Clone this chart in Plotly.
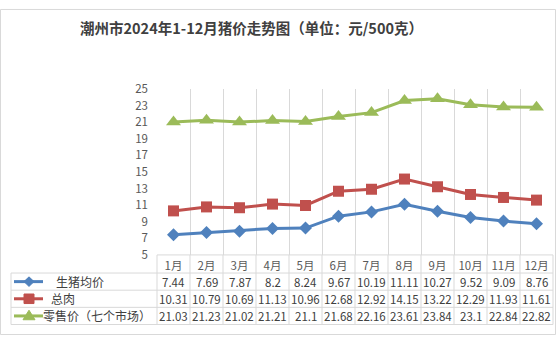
import plotly.graph_objects as go

months = ["1月", "2月", "3月", "4月", "5月", "6月", "7月", "8月", "9月", "10月", "11月", "12月"]
pig = [7.44, 7.69, 7.87, 8.2, 8.24, 9.67, 10.19, 11.11, 10.27, 9.52, 9.09, 8.76]
pork = [10.31, 10.79, 10.69, 11.13, 10.96, 12.68, 12.92, 14.15, 13.22, 12.29, 11.93, 11.61]
retail = [21.03, 21.23, 21.02, 21.21, 21.1, 21.68, 22.16, 23.61, 23.84, 23.1, 22.84, 22.82]
pig_labels = ["7.44", "7.69", "7.87", "8.2", "8.24", "9.67", "10.19", "11.11", "10.27", "9.52", "9.09", "8.76"]
pork_labels = ["10.31", "10.79", "10.69", "11.13", "10.96", "12.68", "12.92", "14.15", "13.22", "12.29", "11.93", "11.61"]
retail_labels = ["21.03", "21.23", "21.02", "21.21", "21.1", "21.68", "22.16", "23.61", "23.84", "23.1", "22.84", "22.82"]
series_names = ["生猪均价", "总肉", "零售价（七个市场）"]
colors = ["#4F81BD", "#C0504D", "#9BBB59"]
symbols = ["diamond", "square", "triangle-up"]
msizes = [10, 11, 13]

W, H = 556, 342
PL, PR, PT, PB = 157, 553, 84, 258
FONT = "Noto Sans CJK SC"
TXT = "#404040"
GRID = "#D9D9D9"


def px(x):
    return x / W


def py(y):
    return 1 - y / H


fig = go.Figure()
for vals, name, c, s, ms in zip([pig, pork, retail], series_names, colors, symbols, msizes):
    fig.add_trace(go.Scatter(x=months, y=vals, name=name, mode="lines+markers",
                             line=dict(color=c, width=3),
                             marker=dict(symbol=s, size=ms, color=c),
                             showlegend=False, cliponaxis=False))

shapes = []
annos = []

n = len(months)
cw = (PR - PL) / n
for k in range(n + 1):
    x = PL + cw * k
    shapes.append(dict(type="line", xref="paper", yref="paper", x0=px(x), x1=px(x),
                       y0=py(PB), y1=py(331), line=dict(color=GRID, width=1)))
shapes.append(dict(type="line", xref="paper", yref="paper", x0=px(11), x1=px(11),
                   y0=py(277), y1=py(331), line=dict(color=GRID, width=1)))
shapes.append(dict(type="line", xref="paper", yref="paper", x0=px(PL), x1=px(PR),
                   y0=py(PB), y1=py(PB), line=dict(color=GRID, width=1)))
for yy in [277, 295, 313, 331]:
    shapes.append(dict(type="line", xref="paper", yref="paper", x0=px(11), x1=px(PR),
                       y0=py(yy), y1=py(yy), line=dict(color=GRID, width=1)))
shapes.append(dict(type="rect", xref="paper", yref="paper", x0=px(0.5), x1=px(W - 0.5),
                   y0=py(0.5), y1=py(H - 0.5), line=dict(color="#D9D9D9", width=1)))

row_y = [286, 304, 322]
label_cx = [80, 63, 97]
for r, (labels, name, c) in enumerate(zip([pig_labels, pork_labels, retail_labels], series_names, colors)):
    yc = row_y[r]
    shapes.append(dict(type="line", xref="paper", yref="paper", x0=px(14), x1=px(43),
                       y0=py(yc), y1=py(yc), line=dict(color=c, width=3)))
    mx = 29
    if r == 0:
        path = f"M {px(mx-5)} {py(yc)} L {px(mx)} {py(yc-5)} L {px(mx+5)} {py(yc)} L {px(mx)} {py(yc+5)} Z"
    elif r == 1:
        path = f"M {px(mx-5)} {py(yc-5)} L {px(mx+5)} {py(yc-5)} L {px(mx+5)} {py(yc+5)} L {px(mx-5)} {py(yc+5)} Z"
    else:
        path = f"M {px(mx-6)} {py(yc+4)} L {px(mx)} {py(yc-6)} L {px(mx+6)} {py(yc+4)} Z"
    shapes.append(dict(type="path", xref="paper", yref="paper", path=path,
                       fillcolor=c, line=dict(color=c, width=1)))
    annos.append(dict(xref="paper", yref="paper", x=px(label_cx[r]), y=py(yc),
                      text=name, showarrow=False, xanchor="center", yanchor="middle",
                      font=dict(family=FONT, size=12, color=TXT)))
    for i, t in enumerate(labels):
        annos.append(dict(xref="paper", yref="paper", x=px(PL + cw * (i + 0.5)), y=py(yc),
                          text=t, showarrow=False, xanchor="center", yanchor="middle",
                          font=dict(family=FONT, size=11.5, color=TXT)))

annos.append(dict(xref="paper", yref="paper", x=px(251), y=py(19),
                  text="<b>潮州市2024年1-12月猪价走势图（单位：元/500克）</b>",
                  showarrow=False, xanchor="center", yanchor="middle",
                  font=dict(family=FONT, size=14.5, color=TXT)))

fig.update_layout(
    width=W, height=H,
    margin=dict(l=0, r=0, t=0, b=0),
    paper_bgcolor="white", plot_bgcolor="white",
    font=dict(family=FONT, color="#595959"),
    xaxis=dict(domain=[px(PL), px(PR)], type="category", tickson="boundaries",
               showgrid=True, gridcolor=GRID, gridwidth=1, ticks="", showline=False,
               zeroline=False, tickfont=dict(size=11.5, color="#595959", family=FONT),
               range=[-0.5, n - 0.5], fixedrange=True, ticklabelstandoff=3),
    yaxis=dict(domain=[py(PB), py(PT)], range=[5, 25], tick0=5, dtick=2,
               showgrid=False, zeroline=False, showline=False, ticks="",
               tickfont=dict(size=11.5, color="#595959", family=FONT), ticklabelstandoff=8),
    shapes=shapes, annotations=annos,
)

fig.write_html("out.html")
